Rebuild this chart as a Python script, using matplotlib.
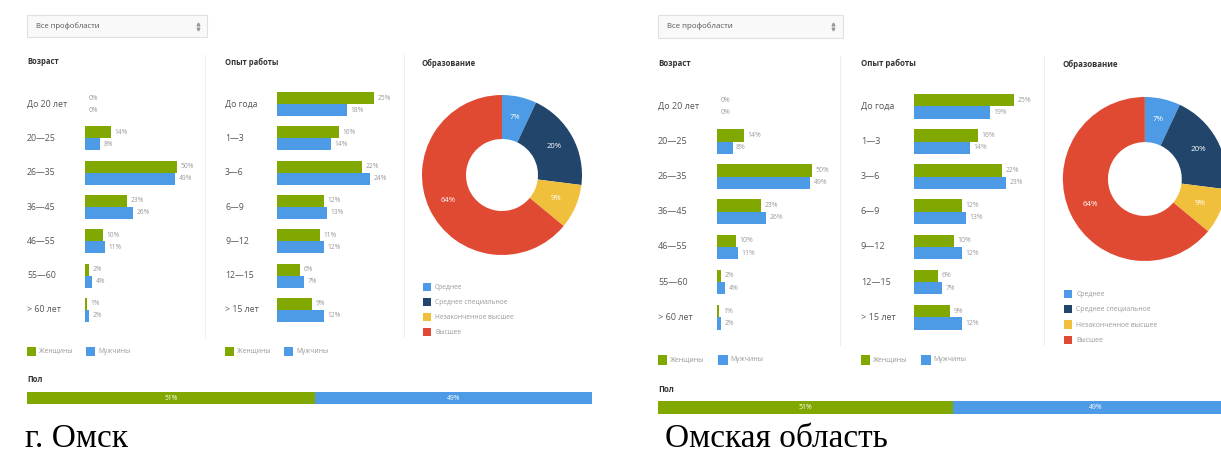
import matplotlib
matplotlib.use("Agg")
import matplotlib.pyplot as plt
from matplotlib.patches import Rectangle
import numpy as np

plt.rcParams['font.family'] = ['Open Sans', 'DejaVu Sans']

W, H = 1221, 455

GREEN = '#80a800'
BLUE = '#4d9be6'
EDU_COLORS = ['#4d9be6', '#21456b', '#f0c03c', '#e04a33']
DARK = '#555555'

age_labels = ["До 20 лет", "20—25", "26—35", "36—45", "46—55", "55—60", "> 60 лет"]
exp_labels = ["До года", "1—3", "3—6", "6—9", "9—12", "12—15", "> 15 лет"]
edu_labels = ["Среднее", "Среднее специальное", "Незаконченное высшее", "Высшее"]
sex_labels = ["Женщины", "Мужчины"]

# г. Омск
omsk_age_f = [0, 14, 50, 23, 10, 2, 1]
omsk_age_m = [0, 8, 49, 26, 11, 4, 2]
omsk_exp_f = [25, 16, 22, 12, 11, 6, 9]
omsk_exp_m = [18, 14, 24, 13, 12, 7, 12]
omsk_edu = [7, 20, 9, 64]
omsk_sex = [51, 49]

# Омская область
obl_age_f = [0, 14, 50, 23, 10, 2, 1]
obl_age_m = [0, 8, 49, 26, 11, 4, 2]
obl_exp_f = [25, 16, 22, 12, 10, 6, 9]
obl_exp_m = [19, 14, 23, 13, 12, 7, 12]
obl_edu = [7, 20, 9, 64]
obl_sex = [51, 49]

fig = plt.figure(figsize=(W / 100, H / 100), dpi=100)
base = fig.add_axes([0, 0, 1, 1])
base.set_xlim(0, W)
base.set_ylim(H, 0)
base.axis('off')


def draw_panel(ox, oy, s, age_f, age_m, exp_f, exp_m, edu, sex):
    def P(x, y):
        return ox + (x - 27) * s, oy + (y - 15) * s

    def add_ax(x, y, w, h):
        X, Y = P(x, y)
        return fig.add_axes([X / W, 1 - (Y + h * s) / H, w * s / W, h * s / H])

    def txt(x, y, t, size=6, **kw):
        X, Y = P(x, y)
        kw.setdefault('va', 'center')
        base.text(X, Y, t, fontsize=size * s, **kw)

    def box(x, y, w, h, **kw):
        X, Y = P(x, y)
        base.add_patch(Rectangle((X, Y), w * s, h * s, **kw))

    # выпадающий список
    box(27, 15, 180, 22, fc='#f9f9f9', ec='#e0e0e0', lw=0.8)
    txt(36, 26, "Все профобласти", size=5.5, color=DARK)
    X, Y = P(198, 23.5)
    base.plot([X], [Y], marker='^', ms=2, color='#999999')
    base.plot([X], [Y + 5 * s], marker='v', ms=2, color='#999999')

    # заголовки
    txt(27, 62, "Возраст", size=5.5, color='#333333', fontweight='bold')
    txt(225, 62, "Опыт работы", size=5.5, color='#333333', fontweight='bold')
    txt(422, 63, "Образование", size=5.5, color='#333333', fontweight='bold')

    # разделители
    for dx in (205, 404):
        X1, Y1 = P(dx, 55)
        X2, Y2 = P(dx, 337)
        base.plot([X1, X2], [Y1, Y2], color='#eeeeee', lw=0.8)

    def bars(x, ppu, xmax, f, m, labels, lab_x):
        ax = add_ax(x, 87, xmax * ppu, 240)
        n = len(f)
        ys = np.arange(n) + 0.5
        ax.barh(ys - 0.175, f, height=0.35, color=GREEN)
        ax.barh(ys + 0.175, m, height=0.35, color=BLUE)
        ax.set_xlim(0, xmax)
        ax.set_ylim(n, 0)
        ax.axis('off')
        for yy, v in zip(ys - 0.175, f):
            ax.annotate(f"{v}%", (v, yy), xytext=(2.5 * s, 0), textcoords='offset points',
                        va='center', fontsize=4.8 * s, color='#9a9a9a')
        for yy, v in zip(ys + 0.175, m):
            ax.annotate(f"{v}%", (v, yy), xytext=(2.5 * s, 0), textcoords='offset points',
                        va='center', fontsize=4.8 * s, color='#9a9a9a')
        tr = ax.get_yaxis_transform()
        for yy, lab in zip(ys, labels):
            ax.text(-(x - lab_x) / (xmax * ppu), yy, lab, transform=tr, va='center',
                    fontsize=6.3 * s, color=DARK)

    bars(85, 1.84, 65, age_f, age_m, age_labels, 27)
    bars(277, 3.88, 30, exp_f, exp_m, exp_labels, 225)

    # легенды
    for lx in (27, 225):
        for i, (lab, c) in enumerate(zip(sex_labels, [GREEN, BLUE])):
            sx = lx + i * 59
            box(sx, 347, 9, 9, fc=c, ec='none')
            txt(sx + 12, 351.5, lab, size=4.8, color='#999999')

    # кольцевая диаграмма
    ax = add_ax(422, 95, 160, 160)
    ax.pie(edu, colors=EDU_COLORS, startangle=90, counterclock=False, radius=1,
           wedgeprops=dict(width=0.55, edgecolor='none'),
           autopct=lambda p: f"{p:.0f}%", pctdistance=0.74,
           textprops=dict(color='white', fontsize=5.5 * s))
    ax.set_xlim(-1, 1)
    ax.set_ylim(-1, 1)
    ax.set_aspect('equal')
    ax.axis('off')
    for i, (lab, c) in enumerate(zip(edu_labels, EDU_COLORS)):
        box(423, 283 + 15 * i, 8, 8, fc=c, ec='none')
        txt(435, 287.5 + 15 * i, lab, size=4.8, color='#999999')

    # пол
    txt(27, 380, "Пол", size=5.5, color='#333333', fontweight='bold')
    ax = add_ax(27, 392, 565, 12)
    left = 0
    for v, c in zip(sex, [GREEN, BLUE]):
        ax.barh(0, v, left=left, height=1, color=c)
        ax.text(left + v / 2, 0, f"{v}%", ha='center', va='center', color='white',
                fontsize=4.8 * s)
        left += v
    ax.set_xlim(0, 100)
    ax.set_ylim(-0.5, 0.5)
    ax.axis('off')


draw_panel(27, 15, 1.0, omsk_age_f, omsk_age_m, omsk_exp_f, omsk_exp_m, omsk_edu, omsk_sex)
draw_panel(658, 15, 1.025, obl_age_f, obl_age_m, obl_exp_f, obl_exp_m, obl_edu, obl_sex)

base.text(25, 447, "г. Омск", family='Liberation Serif', fontsize=24, va='baseline', color='black')
base.text(665, 447, "Омская область", family='Liberation Serif', fontsize=24, va='baseline', color='black')

fig.savefig("out.png", dpi=100, facecolor='white')
